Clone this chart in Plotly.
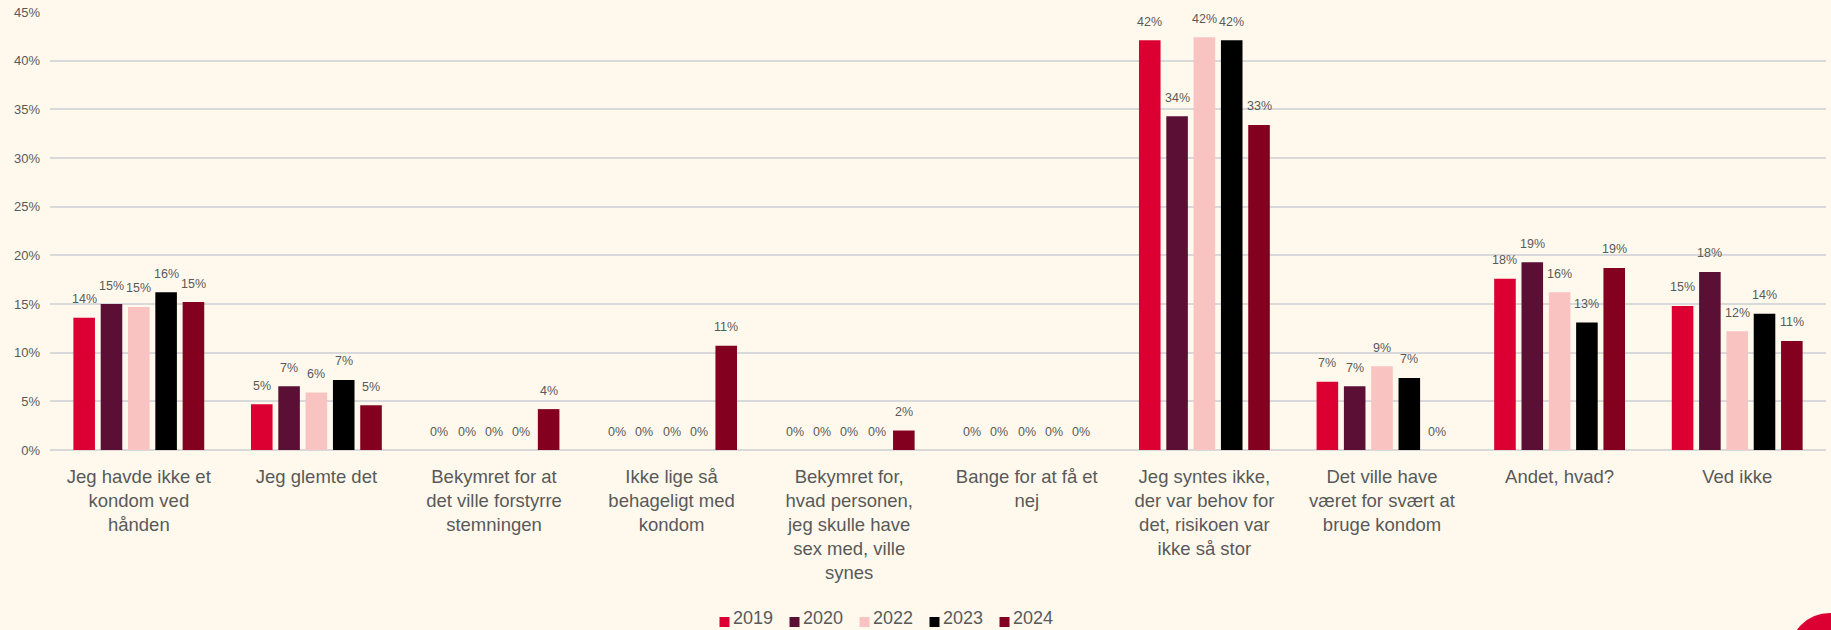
import plotly.graph_objects as go

# Reasons given (x-axis categories), with manual line breaks
categories = [
    "Jeg havde ikke et<br>kondom ved<br>hånden",
    "Jeg glemte det",
    "Bekymret for at<br>det ville forstyrre<br>stemningen",
    "Ikke lige så<br>behageligt med<br>kondom",
    "Bekymret for,<br>hvad personen,<br>jeg skulle have<br>sex med, ville<br>synes",
    "Bange for at få et<br>nej",
    "Jeg syntes ikke,<br>der var behov for<br>det, risikoen var<br>ikke så stor",
    "Det ville have<br>været for svært at<br>bruge kondom",
    "Andet, hvad?",
    "Ved ikke",
]

years = ["2019", "2020", "2022", "2023", "2024"]

# Share of respondents (%) per year
v2019 = [13.6, 4.7, 0, 0, 0, 0, 42.1, 7.0, 17.6, 14.8]
v2020 = [15.0, 6.55, 0, 0, 0, 0, 34.3, 6.55, 19.3, 18.3]
v2022 = [14.7, 5.9, 0, 0, 0, 0, 42.4, 8.6, 16.2, 12.2]
v2023 = [16.2, 7.2, 0, 0, 0, 0, 42.1, 7.4, 13.1, 14.0]
v2024 = [15.2, 4.6, 4.2, 10.7, 2.0, 0, 33.4, 0, 18.7, 11.2]
series = [v2019, v2020, v2022, v2023, v2024]

colors = ["#DC0032", "#5B0F35", "#F8C3C0", "#000000", "#83001F"]

yticks = [0, 5, 10, 15, 20, 25, 30, 35, 40, 45]

BG = "#FFF9ED"
TXT = "#595959"
FONT = "Liberation Sans, Arial, sans-serif"

W, H = 1831, 630
ML, MR, MT, MB = 50, 5, 12, 180
PW, PH = W - ML - MR, H - MT - MB

BARGAP = 0.231
BARGROUPGAP = 0.21
slot = (1 - BARGAP) / len(years)


def px_x(p):
    return (p - ML) / PW


def px_y(p):
    return (H - MB - p) / PH


xs = list(range(len(categories)))

fig = go.Figure()
annotations = []
for j, (year, vals, col) in enumerate(zip(years, series, colors)):
    fig.add_trace(go.Bar(
        x=xs, y=vals, name=year, marker=dict(color=col, line=dict(width=0)),
        showlegend=False,
    ))
    offset = (j - (len(years) - 1) / 2) * slot
    for i, v in zip(xs, vals):
        annotations.append(dict(
            x=i + offset, y=v, xref="x", yref="y", text=f"{v:.0f}%",
            showarrow=False, yanchor="middle", yshift=18.5,
            font=dict(size=12.5, color=TXT, family=FONT),
        ))

# Legend drawn as small squares with year labels
shapes = []
LEG_X0, LEG_PITCH, LEG_Y = 719.5, 70, 622
for j, (year, col) in enumerate(zip(years, colors)):
    sx = LEG_X0 + j * LEG_PITCH
    shapes.append(dict(
        type="rect", xref="paper", yref="paper",
        x0=px_x(sx), x1=px_x(sx + 10), y0=px_y(LEG_Y + 5), y1=px_y(LEG_Y - 5),
        fillcolor=col, line=dict(width=0),
    ))
    annotations.append(dict(
        x=px_x(sx + 12.5), y=px_y(H - 1), xref="paper", yref="paper",
        text=year, showarrow=False, xanchor="left", yanchor="bottom",
        borderpad=0,
        font=dict(size=18, color=TXT, family=FONT),
    ))

# Corner badge
cx, cy, r = 1830, 654, 41
shapes.append(dict(
    type="circle", xref="paper", yref="paper",
    x0=px_x(cx - r), x1=px_x(cx + r), y0=px_y(cy + r), y1=px_y(cy - r),
    fillcolor="#DC0032", line=dict(width=0), layer="above",
))

fig.update_layout(
    width=W, height=H,
    margin=dict(l=ML, r=MR, t=MT, b=MB),
    paper_bgcolor=BG, plot_bgcolor=BG,
    barmode="group", bargap=BARGAP, bargroupgap=BARGROUPGAP,
    font=dict(family=FONT, color=TXT),
    annotations=annotations, shapes=shapes,
    xaxis=dict(
        type="linear", range=[-0.5, len(categories) - 0.5],
        tickmode="array", tickvals=xs, ticktext=categories,
        showgrid=False, zeroline=False, showline=False, ticks="",
        ticklabelstandoff=13,
        tickfont=dict(size=18.5, color=TXT, family=FONT),
    ),
    yaxis=dict(
        range=[0, 45], tickmode="array", tickvals=yticks,
        ticktext=[f"{t}%" for t in yticks],
        showgrid=True, gridcolor="#D9D9D9", gridwidth=1.5,
        zeroline=True, zerolinecolor="#D9D9D9", zerolinewidth=2,
        showline=False, ticks="", ticklabelstandoff=9,
        tickfont=dict(size=13, color=TXT, family=FONT),
    ),
)

fig.write_html("out.html")
